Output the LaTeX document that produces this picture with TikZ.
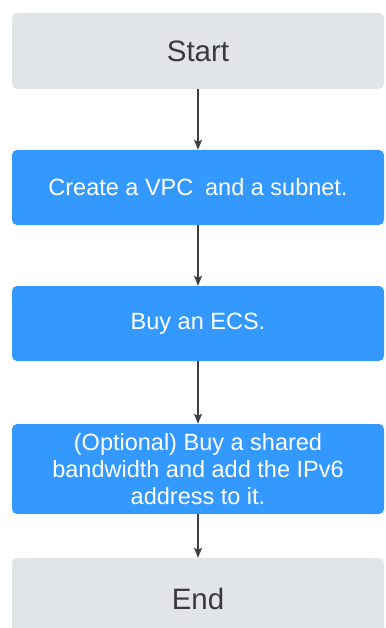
\documentclass[tikz,border=0pt]{standalone}
\usepackage{fontspec}
\setmainfont{Liberation Sans}
\usetikzlibrary{arrows.meta}
\definecolor{boxblue}{HTML}{3399FF}
\definecolor{boxgray}{HTML}{E1E4E8}
\definecolor{txtgray}{HTML}{3A3A3A}
\definecolor{arrgray}{HTML}{404040}
\begin{document}
\begin{tikzpicture}[x=1pt,y=-1pt,
  graybox/.style={fill=boxgray, rounded corners=5pt, minimum width=372pt, inner sep=0pt,
    text=txtgray, font=\fontsize{29.5}{32}\selectfont},
  bluebox/.style={fill=boxblue, rounded corners=5pt, minimum width=372pt, inner sep=0pt,
    text=white, font=\fontsize{23.5}{27}\selectfont, align=center},
  flow/.style={draw=arrgray, line width=1.2pt, -{Stealth[length=10pt,width=8pt,inset=2pt]}}]
\useasboundingbox (0,0) rectangle (385,628);
\clip (0,0) rectangle (385,628);
\node[graybox, minimum height=76pt] (start) at (198,51) {Start};
\node[bluebox, minimum height=75pt] (vpc) at (198,187.5) {Create a VPC\hspace{0.5em}and a subnet.};
\node[bluebox, minimum height=75pt] (ecs) at (198,323.5) {Buy an ECS.};
\node[bluebox, minimum height=90pt] (bw) at (198,469) {(Optional) Buy a shared\\bandwidth and add the IPv6\\address to it.};
\node[graybox, minimum height=82pt, text height=21pt, text depth=0pt] (end) at (198,599) {End};
\draw[flow] (start) -- (vpc);
\draw[flow] (vpc) -- (ecs);
\draw[flow] (ecs) -- (bw);
\draw[flow] (bw) -- (end);
\end{tikzpicture}
\end{document}
